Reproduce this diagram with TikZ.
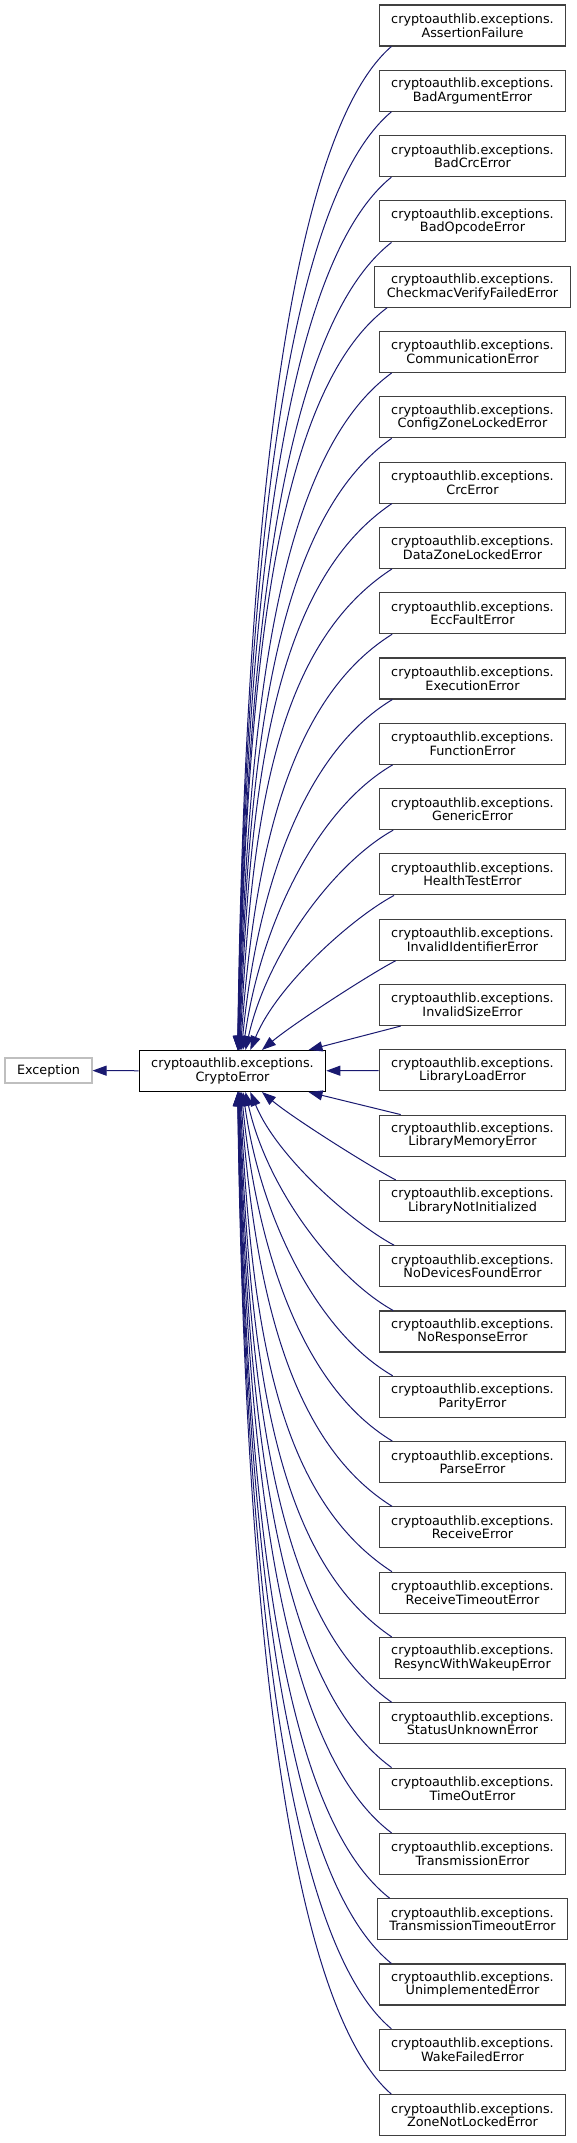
\documentclass[tikz,border=0pt]{standalone}
\usepackage{fontspec}
\setmainfont{DejaVu Sans}
\usepackage{tikz}
\usetikzlibrary{shapes, arrows.meta, positioning, calc}
\usepackage{xcolor}
\definecolor{edgeblue}{RGB}{25,25,112}
\definecolor{boxgray}{RGB}{64,64,64}
\newcommand{\clsfont}{\fontsize{9.6}{10.2}\selectfont}

\begin{document}
\begin{tikzpicture}[
        x=0.75pt, y=0.75pt,
        cls/.style={rectangle, draw=boxgray, fill=white, line width=0.8pt, inner xsep=9pt, inner ysep=2pt, minimum height=30.75pt, align=center, font=\clsfont},
        base/.style={cls, draw=black},
        ext/.style={cls, draw=black!25, minimum height=18.75pt},
        edge/.style={-{Triangle[length=10.5pt, width=7.5pt]}, line width=0.75pt, draw=edgeblue}
    ]
        \useasboundingbox (0,0) rectangle (576,-2143);

        % Clases base
        \node [ext] (exc) at (48.5, -1070.5) {Exception};
        \node [base] (crypto) at (232.5, -1071) {cryptoauthlib.exceptions.\\CryptoError};

        % Clases derivadas (columna derecha)
        \node [cls] (e0) at (472.5, -25.5) {cryptoauthlib.exceptions.\\AssertionFailure};
        \node [cls] (e1) at (472.5, -90.8) {cryptoauthlib.exceptions.\\BadArgumentError};
        \node [cls] (e2) at (472.5, -156.1) {cryptoauthlib.exceptions.\\BadCrcError};
        \node [cls] (e3) at (472.5, -221.4) {cryptoauthlib.exceptions.\\BadOpcodeError};
        \node [cls] (e4) at (472.5, -286.7) {cryptoauthlib.exceptions.\\CheckmacVerifyFailedError};
        \node [cls] (e5) at (472.5, -352.0) {cryptoauthlib.exceptions.\\CommunicationError};
        \node [cls] (e6) at (472.5, -417.3) {cryptoauthlib.exceptions.\\ConfigZoneLockedError};
        \node [cls] (e7) at (472.5, -482.6) {cryptoauthlib.exceptions.\\CrcError};
        \node [cls] (e8) at (472.5, -547.9) {cryptoauthlib.exceptions.\\DataZoneLockedError};
        \node [cls] (e9) at (472.5, -613.2) {cryptoauthlib.exceptions.\\EccFaultError};
        \node [cls] (e10) at (472.5, -678.5) {cryptoauthlib.exceptions.\\ExecutionError};
        \node [cls] (e11) at (472.5, -743.8) {cryptoauthlib.exceptions.\\FunctionError};
        \node [cls] (e12) at (472.5, -809.1) {cryptoauthlib.exceptions.\\GenericError};
        \node [cls] (e13) at (472.5, -874.4) {cryptoauthlib.exceptions.\\HealthTestError};
        \node [cls] (e14) at (472.5, -939.7) {cryptoauthlib.exceptions.\\InvalidIdentifierError};
        \node [cls] (e15) at (472.5, -1005.0) {cryptoauthlib.exceptions.\\InvalidSizeError};
        \node [cls] (e16) at (472.5, -1070.3) {cryptoauthlib.exceptions.\\LibraryLoadError};
        \node [cls] (e17) at (472.5, -1135.6) {cryptoauthlib.exceptions.\\LibraryMemoryError};
        \node [cls] (e18) at (472.5, -1200.9) {cryptoauthlib.exceptions.\\LibraryNotInitialized};
        \node [cls] (e19) at (472.5, -1266.2) {cryptoauthlib.exceptions.\\NoDevicesFoundError};
        \node [cls] (e20) at (472.5, -1331.5) {cryptoauthlib.exceptions.\\NoResponseError};
        \node [cls] (e21) at (472.5, -1396.8) {cryptoauthlib.exceptions.\\ParityError};
        \node [cls] (e22) at (472.5, -1462.1) {cryptoauthlib.exceptions.\\ParseError};
        \node [cls] (e23) at (472.5, -1527.4) {cryptoauthlib.exceptions.\\ReceiveError};
        \node [cls] (e24) at (472.5, -1592.7) {cryptoauthlib.exceptions.\\ReceiveTimeoutError};
        \node [cls] (e25) at (472.5, -1658.0) {cryptoauthlib.exceptions.\\ResyncWithWakeupError};
        \node [cls] (e26) at (472.5, -1723.3) {cryptoauthlib.exceptions.\\StatusUnknownError};
        \node [cls] (e27) at (472.5, -1788.6) {cryptoauthlib.exceptions.\\TimeOutError};
        \node [cls] (e28) at (472.5, -1853.9) {cryptoauthlib.exceptions.\\TransmissionError};
        \node [cls] (e29) at (472.5, -1919.2) {cryptoauthlib.exceptions.\\TransmissionTimeoutError};
        \node [cls] (e30) at (472.5, -1984.5) {cryptoauthlib.exceptions.\\UnimplementedError};
        \node [cls] (e31) at (472.5, -2049.8) {cryptoauthlib.exceptions.\\WakeFailedError};
        \node [cls] (e32) at (472.5, -2115.1) {cryptoauthlib.exceptions.\\ZoneNotLockedError};

        % Herencia directa
        \draw [edge] (crypto) -- (exc);
        \draw [edge] (e16) -- (crypto);
        \draw [edge] ([xshift=16.5pt]e15.south west) -- ([xshift=57pt]crypto.north);
        \draw [edge] ([xshift=16.5pt]e17.north west) -- ([xshift=57pt]crypto.south);

        % Curvas hacia arriba
        \foreach \k in {0,...,14} {
            \pgfmathsetmacro{\dist}{16-\k}
            \pgfmathsetmacro{\dropy}{65.3*\dist-39.8}
            \pgfmathsetmacro{\startx}{0.75*(12+10/\dist)}
            \pgfmathsetmacro{\tipx}{0.75*(4+72/(\dist^1.5))}
            \pgfmathsetmacro{\outang}{205+\dist}
            \pgfmathsetmacro{\outlen}{0.75*min(0.3*\dropy,150)}
            \pgfmathsetmacro{\inang}{90-200/(\dist*\dist)}
            \pgfmathsetmacro{\inlen}{0.75*0.45*\dropy}
            \draw [edge] ([xshift=\startx pt]e\k.south west) to[out=\outang, in=\inang, out distance=\outlen pt, in distance=\inlen pt] ([xshift=\tipx pt]crypto.north);
        }

        % Curvas hacia abajo
        \foreach \k in {18,...,32} {
            \pgfmathsetmacro{\dist}{\k-16}
            \pgfmathsetmacro{\dropy}{65.3*\dist-39.8}
            \pgfmathsetmacro{\startx}{0.75*(12+10/\dist)}
            \pgfmathsetmacro{\tipx}{0.75*(4+72/(\dist^1.5))}
            \pgfmathsetmacro{\outang}{155-\dist}
            \pgfmathsetmacro{\outlen}{0.75*min(0.3*\dropy,150)}
            \pgfmathsetmacro{\inang}{-90+200/(\dist*\dist)}
            \pgfmathsetmacro{\inlen}{0.75*0.45*\dropy}
            \draw [edge] ([xshift=\startx pt]e\k.north west) to[out=\outang, in=\inang, out distance=\outlen pt, in distance=\inlen pt] ([xshift=\tipx pt]crypto.south);
        }
    \end{tikzpicture}
\end{document}
